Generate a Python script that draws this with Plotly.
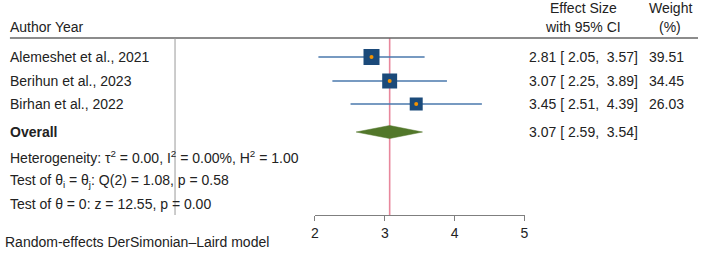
import plotly.graph_objects as go
import math

# ---- data ----
studies = ["Alemeshet et al., 2021", "Berihun et al., 2023", "Birhan et al., 2022"]
effect = [2.81, 3.07, 3.45]
ci_low = [2.05, 2.25, 2.51]
ci_high = [3.57, 3.89, 4.39]
weights = [39.51, 34.45, 26.03]
overall_est = 3.07
overall_low = 2.59
overall_high = 3.54
x_ticks = [2, 3, 4, 5]
het_text = "Heterogeneity: τ<sup>2</sup> = 0.00, I<sup>2</sup> = 0.00%, H<sup>2</sup> = 1.00"
test1_text = "Test of θ<sub>i</sub> = θ<sub>j</sub>: Q(2) = 1.08, p = 0.58"
test2_text = "Test of θ = 0: z = 12.55, p = 0.00"
model_text = "Random-effects DerSimonian–Laird model"

# ---- layout constants (pixel rows) ----
W, H = 702, 260
row_y = [57, 81, 104]
overall_y = 132
stat_y = [157, 181, 204]
axis_y = 215
header_line_y = 38
FONT = "Liberation Sans, Arial, sans-serif"
FS = 14
TXT = "#222222"

fig = go.Figure()

# CI lines
for i in range(len(studies)):
    fig.add_trace(go.Scatter(x=[ci_low[i], ci_high[i]], y=[row_y[i], row_y[i]], mode="lines",
                             line=dict(color="#4a78ad", width=1.3), hoverinfo="skip", showlegend=False))

# squares sized by weight (area proportional)
maxw = max(weights)
sizes = [16 * math.sqrt(w / maxw) for w in weights]
fig.add_trace(go.Scatter(x=effect, y=row_y, mode="markers",
                         marker=dict(symbol="square", size=sizes, color="#1b4a7a", opacity=1,
                                     line=dict(width=0)),
                         showlegend=False, hoverinfo="skip"))
# orange center dots
fig.add_trace(go.Scatter(x=effect, y=row_y, mode="markers",
                         marker=dict(symbol="circle", size=4, color="#f39200", opacity=1, line=dict(width=0)),
                         showlegend=False, hoverinfo="skip"))

# overall diamond
dh = 6.5
fig.add_trace(go.Scatter(x=[overall_low, overall_est, overall_high, overall_est, overall_low],
                         y=[overall_y, overall_y - dh, overall_y, overall_y + dh, overall_y],
                         mode="lines", fill="toself", fillcolor="#52772a",
                         line=dict(color="#52772a", width=0.5), showlegend=False, hoverinfo="skip"))

shapes = [
    # overall effect line
    dict(type="line", xref="x", yref="y", x0=overall_est, x1=overall_est, y0=header_line_y, y1=axis_y,
         line=dict(color="#e8879c", width=1.6), layer="below"),
    # header rule
    dict(type="line", xref="paper", yref="y", x0=6 / W, x1=1, y0=header_line_y, y1=header_line_y,
         line=dict(color="#666666", width=1.3)),
    # vertical separator
    dict(type="line", xref="paper", yref="y", x0=173 / W, x1=173 / W, y0=header_line_y, y1=axis_y,
         line=dict(color="#999999", width=1)),
]

ann = []
def add_text(x, y, text, anchor="left", bold=False):
    ann.append(dict(xref="paper", yref="y", x=x / W, y=y, text=("<b>%s</b>" % text) if bold else text,
                    showarrow=False, xanchor=anchor, yanchor="middle",
                    font=dict(family=FONT, size=FS, color=TXT), borderpad=0))

add_text(5, 27, "Author Year")
add_text(586, 8, "Effect Size", "center")
add_text(586, 27, "with 95% CI", "center")
add_text(674, 8, "Weight", "center")
add_text(674, 27, "(%)", "center")
for i, s in enumerate(studies):
    add_text(5, row_y[i], s)
    add_text(530, row_y[i], "%.2f [ %.2f,  %.2f]" % (effect[i], ci_low[i], ci_high[i]))
    add_text(689, row_y[i], "%.2f" % weights[i], "right")
add_text(5, overall_y, "Overall", bold=True)
add_text(530, overall_y, "%.2f [ %.2f,  %.2f]" % (overall_est, overall_low, overall_high))
add_text(5, stat_y[0], het_text)
add_text(5, stat_y[1], test1_text)
add_text(5, stat_y[2], test2_text)
add_text(0, 242, model_text)

fig.update_layout(
    width=W, height=H, margin=dict(l=0, r=0, t=0, b=0),
    paper_bgcolor="white", plot_bgcolor="rgba(0,0,0,0)",
    shapes=shapes, annotations=ann,
    xaxis=dict(domain=[314.5 / W, 526.5 / W], range=[2, 5], anchor="free", position=1 - axis_y / H,
               showline=True, linecolor="#7f7f7f", linewidth=1.3, ticks="outside", ticklen=5,
               tickcolor="#7f7f7f", tickwidth=1.3, tickvals=x_ticks, showgrid=False, zeroline=False,
               tickfont=dict(family=FONT, size=FS, color=TXT), fixedrange=True),
    yaxis=dict(domain=[0, 1], range=[H, 0], visible=False, showgrid=False, zeroline=False, fixedrange=True),
    font=dict(family=FONT, size=FS, color=TXT),
)

fig.write_html("out.html")
